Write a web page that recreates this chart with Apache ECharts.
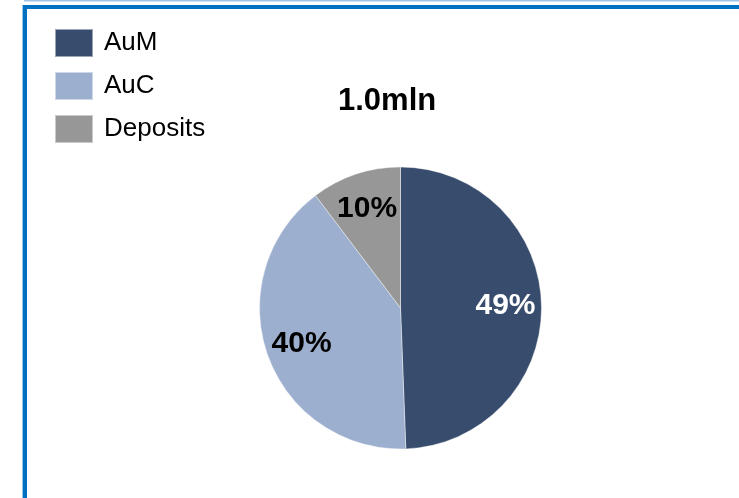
<!DOCTYPE html>
<html>
<head>
<meta charset="utf-8">
<script src="https://cdn.jsdelivr.net/npm/echarts@6/dist/echarts.min.js"></script>
<style>
    html, body { margin: 0; padding: 0; background: #fff; }
    #chart { width: 739px; height: 498px; }
</style>
</head>
<body>
<div id="chart"></div>
<script>
    // 资产构成
    var categories = ['AuM', 'AuC', 'Deposits'];
    var shares = [49.4, 40.3, 10.3]; // %
    var colors = ['#384D6D', '#9DAFCE', '#979797'];
    var labelColors = ['#fff', '#000', '#000'];
    var totalText = '1.0mln';

    var font = 'Arial, "Liberation Sans", sans-serif';

    var pieData = categories.map(function (name, i) {
        return {name: name, value: shares[i], itemStyle: {color: colors[i]}};
    });
    var labelData = categories.map(function (name, i) {
        return {
            name: name, value: shares[i],
            label: {color: labelColors[i]}
        };
    });

    var chart = echarts.init(document.getElementById('chart'));
    var option = {
        animation: false,
        title: {
            text: totalText,
            left: 338,
            top: 86,
            padding: 0,
            textStyle: {fontSize: 31, fontWeight: 'bold', color: '#000', fontFamily: font}
        },
        legend: {
            orient: 'vertical',
            left: 54,
            top: 28,
            icon: 'rect',
            itemWidth: 38,
            itemHeight: 28,
            itemGap: 13,
            padding: 0,
            data: categories,
            textStyle: {fontSize: 26, color: '#000', fontFamily: font, padding: [0, 0, 0, 6]}
        },
        graphic: [
            // 外框
            {type: 'rect', shape: {x: 24, y: 0, width: 715, height: 1.5}, style: {fill: '#9DC3E6'}, silent: true},
            {type: 'rect', shape: {x: 22, y: 5, width: 1, height: 493}, style: {fill: '#9DC3E6'}, silent: true},
            {type: 'rect', shape: {x: 23, y: 5, width: 716, height: 4}, style: {fill: '#0070C0'}, silent: true},
            {type: 'rect', shape: {x: 23, y: 5, width: 4, height: 493}, style: {fill: '#0070C0'}, silent: true}
        ],
        series: [
            {
                type: 'pie',
                center: [400.5, 308],
                radius: [0, 141],
                startAngle: 90,
                clockwise: true,
                label: {show: false},
                labelLine: {show: false},
                itemStyle: {borderColor: 'rgba(255,255,255,0.5)', borderWidth: 0.8},
                emphasis: {disabled: true},
                data: pieData
            },
            {
                // 只用于放置标签
                type: 'pie',
                center: [400.5, 308],
                radius: [63, 141],
                startAngle: 90,
                clockwise: true,
                silent: true,
                legendHoverLink: false,
                itemStyle: {color: 'rgba(0,0,0,0)'},
                label: {
                    show: true,
                    position: 'inside',
                    fontSize: 30,
                    fontWeight: 'bold',
                    fontFamily: font,
                    formatter: function (p) { return Math.round(p.value) + '%'; }
                },
                labelLine: {show: false},
                emphasis: {disabled: true},
                data: labelData
            }
        ]
    };
    chart.setOption(option);
</script>
</body>
</html>
